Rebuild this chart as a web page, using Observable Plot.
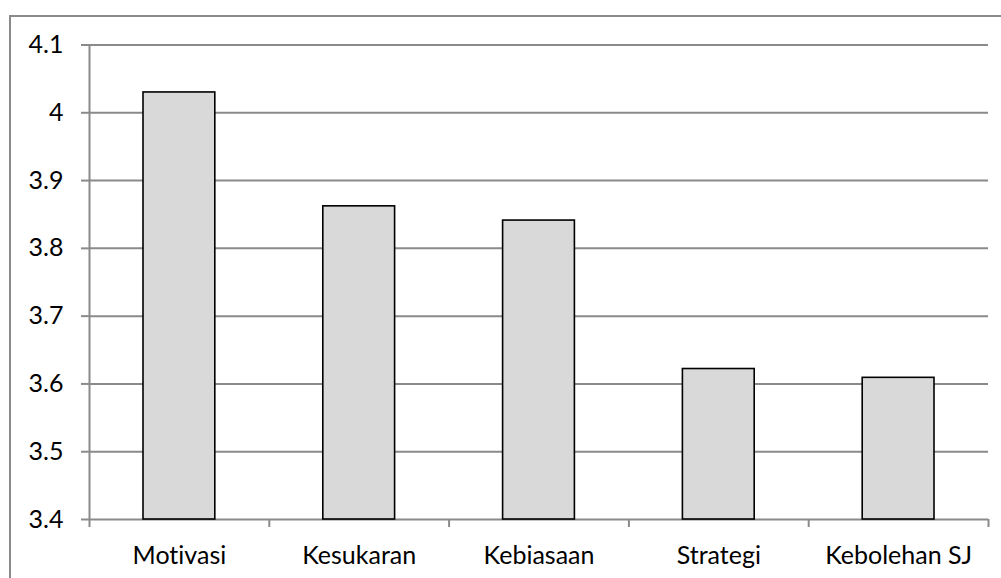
<!DOCTYPE html>
<html><head><meta charset="utf-8">
<script src="https://cdn.jsdelivr.net/npm/d3@7"></script>
<script src="https://cdn.jsdelivr.net/npm/@observablehq/plot@0.6"></script>
<style>
html,body{margin:0;padding:0;background:#fff;}
#wrap{position:relative;width:1001px;height:578px;overflow:hidden;}
#border{position:absolute;left:9px;top:15px;width:1100px;height:700px;border:2px solid #8a8a8a;box-sizing:border-box;}
#wrap svg{position:absolute;left:0;top:0;}
#wrap svg text{font-variant-ligatures:none !important;font-feature-settings:"liga" 0,"clig" 0,"dlig" 0 !important;}
</style></head>
<body><div id="wrap"><div id="border"></div></div>
<script>
const categories = ["Motivasi", "Kesukaran", "Kebiasaan", "Strategi", "Kebolehan SJ"];
const values = [4.03, 3.862, 3.841, 3.622, 3.609];
const yTicks = [3.4, 3.5, 3.6, 3.7, 3.8, 3.9, 4.0, 4.1];
const yTickLabels = ["3.4", "3.5", "3.6", "3.7", "3.8", "3.9", "4", "4.1"];

const data = categories.map((c, i) => ({i, c, v: values[i]}));
const boundaries = d3.range(categories.length + 1);
const centers = categories.map((c, i) => i + 0.5);

const chart = Plot.plot({
  width: 1001,
  height: 578,
  marginLeft: 89,
  marginRight: 13,
  marginTop: 44.5,
  marginBottom: 59,
  style: {fontFamily: "Lato, 'Open Sans', sans-serif", fontSize: "25px", color: "#000", background: "transparent"},
  x: {domain: [0, categories.length]},
  y: {domain: [3.4, 4.1]},
  marks: [
    Plot.ruleY(yTicks, {stroke: "#8a8a8a", strokeWidth: 2}),
    Plot.ruleX([0], {stroke: "#8a8a8a", strokeWidth: 2}),
    Plot.axisY({ticks: yTicks, tickSize: 8, tickPadding: 18, stroke: "#8a8a8a", strokeWidth: 2,
      tickFormat: d => yTickLabels[yTicks.findIndex(t => Math.abs(t - d) < 1e-9)], fill: "#000", label: null}),
    Plot.axisX({ticks: boundaries, tickSize: 8, tickFormat: () => "", stroke: "#8a8a8a", strokeWidth: 2, label: null}),
    Plot.axisX({ticks: centers, tickSize: 0, tickPadding: 27, tickFormat: d => categories[Math.round(d - 0.5)], fill: "#000", label: null,
      style: {letterSpacing: "0.6px"}}),
    Plot.rectY(data, {x1: "i", x2: d => d.i + 1, y1: 3.4, y2: "v", insetLeft: 54, insetRight: 54,
      fill: "#d9d9d9", stroke: "#000", strokeWidth: 1.6})
  ]
});
document.getElementById("wrap").appendChild(chart);
</script>
</body></html>
